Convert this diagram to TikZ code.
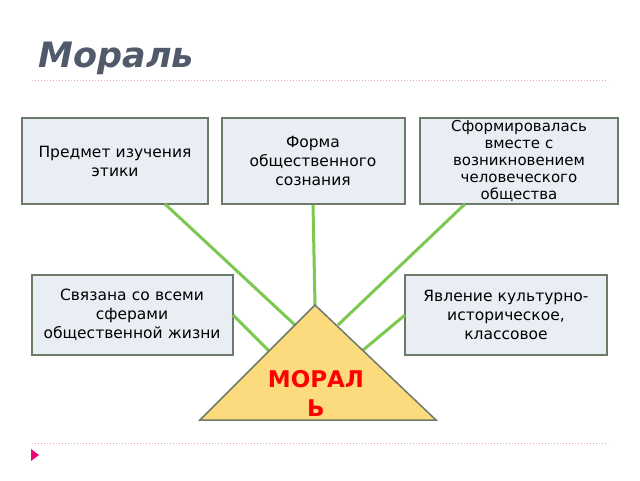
\documentclass[tikz,border=0pt]{standalone}
\usepackage{fontspec}
\setmainfont{DejaVu Sans}
\usetikzlibrary{positioning}
\definecolor{boxfill}{HTML}{E9EEF5}
\definecolor{boxline}{HTML}{6E7A68}
\definecolor{linkgreen}{HTML}{7DC850}
\definecolor{titlegray}{HTML}{505A6A}
\definecolor{dotpink}{HTML}{E8A0C0}
\definecolor{trifill}{HTML}{FBDB7E}
\tikzset{
  idea/.style={draw=boxline, line width=2pt, fill=boxfill, align=center,
    font=\fontsize{15.5}{19}\selectfont, inner sep=1pt},
  link/.style={draw=linkgreen, line width=3pt},
  sep/.style={draw=dotpink, dotted, line width=1pt}
}
\begin{document}
\begin{tikzpicture}[x=1pt,y=-1pt]
  \useasboundingbox (0,0) rectangle (640,480);
  \node[font=\bfseries\itshape\fontsize{35}{40}\selectfont, text=titlegray, anchor=west] (title) at (35,58) {Мораль};
  \draw[sep] (32,80) -- (608,80);
  \draw[sep] (32,443) -- (608,443);
  \fill[magenta!80!red] (31,449) -- (39,455) -- (31,461) -- cycle;

  \node[idea, minimum width=186pt, minimum height=86pt, text width=184pt] (B1) at (115,161) {Предмет изучения\\этики};
  \node[idea, minimum width=183pt, minimum height=86pt, text width=181pt] (B2) at (313,161) {Форма\\общественного\\сознания};
  \node[idea, minimum width=198pt, minimum height=86pt, text width=196pt, font=\fontsize{15}{17}\selectfont] (B3) at (519,161) {Сформировалась\\вместе с\\возникновением\\человеческого\\общества};
  \node[idea, minimum width=201pt, minimum height=80pt, text width=199pt] (B4) at (132,315) {Связана со всеми\\сферами\\общественной жизни};
  \node[idea, minimum width=202pt, minimum height=80pt, text width=200pt] (B5) at (506,315) {Явление культурно-\\историческое,\\классовое};

  \coordinate (apex) at (315,305);
  \coordinate (baseL) at (200,420);
  \coordinate (baseR) at (436,420);
  \coordinate (e1) at (295,325);
  \coordinate (e3) at (338,325);
  \coordinate (e4) at (269,351);
  \coordinate (e5) at (362,351);
  \coordinate (s1) at (165,204);
  \coordinate (s3) at (465,204);
  \coordinate (s4) at (233,315);
  \coordinate (s5) at (405,315);

  \draw[link] (s1) -- (e1);
  \draw[link] (B2.south) -- (apex);
  \draw[link] (s3) -- (e3);
  \draw[link] (s4) -- (e4);
  \draw[link] (s5) -- (e5);

  \draw[draw=boxline, line width=1.5pt, fill=trifill] (apex) -- (baseR) -- (baseL) -- cycle;
  \node[text=red, font=\bfseries\fontsize{23}{29}\selectfont, align=center] (moral) at (316,393) {МОРАЛ\\Ь};
\end{tikzpicture}
\end{document}
